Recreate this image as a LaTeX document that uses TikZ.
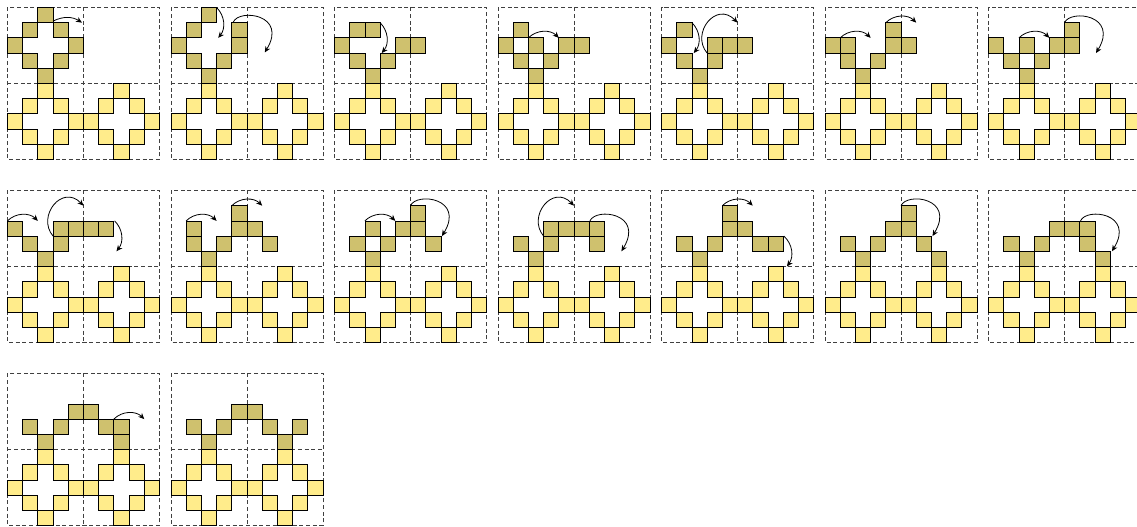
\documentclass[tikz,border=0pt]{standalone}
\usetikzlibrary{arrows.meta}
\definecolor{tanc}{RGB}{207,193,110}
\definecolor{yelc}{RGB}{255,236,139}
\newcommand\basegrid{%
  \draw[gridline] (0,0) rectangle (10,-10) (5,0) -- (5,-10) (0,-5) -- (10,-5);
  \foreach \cx/\ry in {2/5,1/6,3/6,0/7,4/7,1/8,3/8,2/9,7/5,6/6,8/6,5/7,9/7,6/8,8/8,7/9}
    \filldraw[yelcell] (\cx,-\ry) rectangle ++(1,-1);}
\newcommand\tanset[1]{\foreach \cx/\ry in {#1} \filldraw[tancell] (\cx,-\ry) rectangle ++(1,-1);}
\newcommand\hoparrow[3][45]{\draw[movearrow] (#2) to[bend left=#1] (#3);}
\newcommand\droparrow[2]{\draw[movearrow] (#1) to[bend left=42] (#2);}
\newcommand\cwarrow[1]{\draw[movearrow] (#1) .. controls +(0.4,0.9) and +(1.53,2.5) .. ++(2.07,-2);}
\newcommand\ccwarrow[1]{\draw[movearrow] (#1) .. controls +(-1.1,1.3) and +(-1.4,1.45) .. ++(2,2);}
\begin{document}
\begin{tikzpicture}[x=0.4cm,y=0.4cm,
  panelat/.style 2 args={shift={(0.49+#1*10.757,-0.49-#2*12.04)}},
  cellbox/.style={draw=black,line width=0.55pt},
  tancell/.style={cellbox,fill=tanc},
  yelcell/.style={cellbox,fill=yelc},
  gridline/.style={draw=black!75,line width=0.5pt,dash pattern=on 3pt off 2pt},
  movearrow/.style={draw=black,line width=0.6pt,-{Stealth[length=4.5pt,width=4pt]}}]
\useasboundingbox (0,0) rectangle (74.8,-34.605);
\clip (0,0) rectangle (74.8,-34.605);
% row 1
\begin{scope}[panelat={0}{0}]
  \basegrid \tanset{2/0,1/1,3/1,0/2,4/2,1/3,3/3,2/4}
  \hoparrow[30]{3,-0.9}{4.9,-1}
\end{scope}
\begin{scope}[panelat={1}{0}]
  \basegrid \tanset{2/0,1/1,4/1,0/2,4/2,1/3,3/3,2/4}
  \droparrow{3,0}{3.11,-2} \cwarrow{4.1,-0.96}
\end{scope}
\begin{scope}[panelat={2}{0}]
  \basegrid \tanset{1/1,2/1,0/2,4/2,5/2,1/3,3/3,2/4}
  \droparrow{3,-1}{3.11,-3}
\end{scope}
\begin{scope}[panelat={3}{0}]
  \basegrid \tanset{1/1,0/2,2/2,4/2,5/2,1/3,3/3,2/4}
  \hoparrow{2,-2}{4,-2}
\end{scope}
\begin{scope}[panelat={4}{0}]
  \basegrid \tanset{1/1,0/2,3/2,4/2,5/2,1/3,3/3,2/4}
  \droparrow{2,-1}{2.12,-3} \ccwarrow{3,-3}
\end{scope}
\begin{scope}[panelat={5}{0}]
  \basegrid \tanset{4/1,0/2,1/2,4/2,5/2,1/3,3/3,2/4}
  \hoparrow{1,-2}{3,-2} \hoparrow{4,-1}{6,-1}
\end{scope}
\begin{scope}[panelat={6}{0}]
  \basegrid \tanset{5/1,0/2,2/2,4/2,5/2,1/3,3/3,2/4}
  \hoparrow{2,-2}{4,-2} \cwarrow{5,-1}
\end{scope}
% row 2
\begin{scope}[panelat={0}{1}]
  \basegrid \tanset{0/2,3/2,4/2,5/2,6/2,1/3,3/3,2/4}
  \hoparrow{0,-2}{2,-2} \ccwarrow{3,-3} \droparrow{7.05,-2}{7.17,-4}
\end{scope}
\begin{scope}[panelat={1}{1}]
  \basegrid \tanset{1/2,4/1,4/2,5/2,6/3,1/3,3/3,2/4}
  \hoparrow{1,-2}{3,-2} \hoparrow{4,-1}{6,-1}
\end{scope}
\begin{scope}[panelat={2}{1}]
  \basegrid \tanset{2/2,5/1,4/2,5/2,6/3,1/3,3/3,2/4}
  \hoparrow{2,-2}{4,-2} \cwarrow{5,-1}
\end{scope}
\begin{scope}[panelat={3}{1}]
  \basegrid \tanset{3/2,6/2,4/2,5/2,6/3,1/3,3/3,2/4}
  \ccwarrow{3,-3} \cwarrow{6.05,-2}
\end{scope}
\begin{scope}[panelat={4}{1}]
  \basegrid \tanset{4/1,7/3,4/2,5/2,6/3,1/3,3/3,2/4}
  \hoparrow{4,-1}{6,-1} \droparrow{8.05,-3}{8.25,-5}
\end{scope}
\begin{scope}[panelat={5}{1}]
  \basegrid \tanset{5/1,7/4,4/2,5/2,6/3,1/3,3/3,2/4}
  \cwarrow{5,-1}
\end{scope}
\begin{scope}[panelat={6}{1}]
  \basegrid \tanset{6/2,7/4,4/2,5/2,6/3,1/3,3/3,2/4}
  \cwarrow{6.05,-2}
\end{scope}
% row 3
\begin{scope}[panelat={0}{2}]
  \basegrid \tanset{7/3,7/4,4/2,5/2,6/3,1/3,3/3,2/4}
  \hoparrow{7,-3}{9,-3}
\end{scope}
\begin{scope}[panelat={1}{2}]
  \basegrid \tanset{8/3,7/4,4/2,5/2,6/3,1/3,3/3,2/4}
\end{scope}
\end{tikzpicture}
\end{document}
